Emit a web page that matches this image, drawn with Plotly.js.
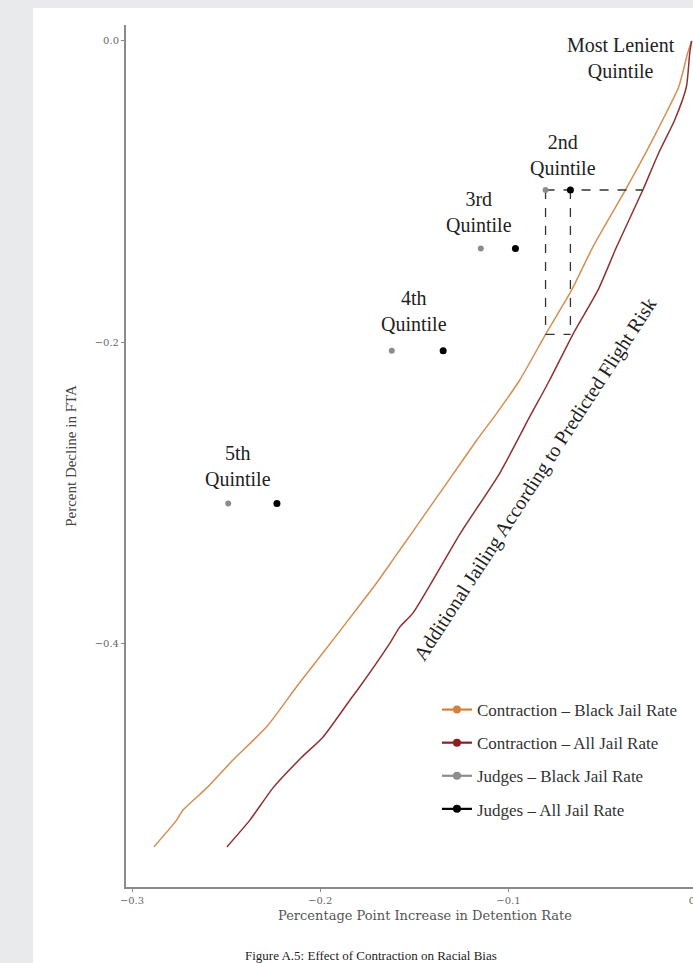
<!DOCTYPE html>
<html>
<head>
<meta charset="utf-8">
<script src="https://cdn.plot.ly/plotly-3.0.1.min.js"></script>
<style>
  html, body { margin: 0; padding: 0; overflow: hidden; background: #e9eaec; width: 693px; height: 963px; }
  #panel { position: absolute; left: 33px; top: 8px; width: 800px; height: 1000px; background: #ffffff; }
  #chart { position: absolute; left: 0; top: 0; width: 740px; height: 963px; }
</style>
</head>
<body>
<div id="panel"></div>
<div id="chart"></div>
<script>
// ---- Data ----
// Contraction curve, Black jail rate (x: pp increase in detention, y: percent decline in FTA)
const contractionBlackX = [-0.0027, -0.0048, -0.0096, -0.0181, -0.0271, -0.0380, -0.0552, -0.0664, -0.0802, -0.0940, -0.1062, -0.1168, -0.1328, -0.1514, -0.1604, -0.1701, -0.1843, -0.2002, -0.2126, -0.2285, -0.2464, -0.2597, -0.2730, -0.2763, -0.2884];
const contractionBlackY = [0.0000, -0.0080, -0.0306, -0.0525, -0.0744, -0.0993, -0.1369, -0.1654, -0.1947, -0.2252, -0.2472, -0.2651, -0.2937, -0.3269, -0.3429, -0.3601, -0.3834, -0.4091, -0.4290, -0.4556, -0.4777, -0.4955, -0.5110, -0.5176, -0.5354];

// Contraction curve, All jail rate
const contractionAllX = [-0.0027, -0.0037, -0.0055, -0.0117, -0.0202, -0.0288, -0.0426, -0.0524, -0.0657, -0.0781, -0.0887, -0.1046, -0.1255, -0.1508, -0.1577, -0.1630, -0.1790, -0.1843, -0.1985, -0.2100, -0.2250, -0.2374, -0.2496];
const contractionAllY = [0.0000, -0.0080, -0.0306, -0.0525, -0.0744, -0.0995, -0.1369, -0.1654, -0.1947, -0.2252, -0.2496, -0.2870, -0.3269, -0.3801, -0.3892, -0.4000, -0.4290, -0.4379, -0.4623, -0.4760, -0.4960, -0.5176, -0.5354];

// Judges by leniency quintile (2nd, 3rd, 4th, 5th)
const quintileLabels = ["2nd", "3rd", "4th", "5th"];
const judgesBlackX = [-0.0803, -0.1147, -0.1620, -0.2489];
const judgesAllX   = [-0.0671, -0.0963, -0.1347, -0.2230];
const judgesY      = [-0.0990, -0.1379, -0.2058, -0.3072];

// Tick values
const xTicks = [-0.3, -0.2, -0.1, 0.0];
const yTicks = [0.0, -0.2, -0.4];

// ---- helpers ----
function interpYatX(xs, ys, x) {
  for (let i = 0; i < xs.length - 1; i++) {
    const a = xs[i], b = xs[i + 1];
    if ((x <= a && x >= b) || (x >= a && x <= b)) {
      const t = (x - a) / (b - a);
      return ys[i] + t * (ys[i + 1] - ys[i]);
    }
  }
  return ys[ys.length - 1];
}
function interpXatY(xs, ys, y) {
  for (let i = 0; i < ys.length - 1; i++) {
    const a = ys[i], b = ys[i + 1];
    if ((y <= a && y >= b) || (y >= a && y <= b)) {
      const t = (y - a) / (b - a);
      return xs[i] + t * (xs[i + 1] - xs[i]);
    }
  }
  return xs[xs.length - 1];
}

const ORANGE = '#D68E52';
const MAROON = '#8E3232';
const ORANGE_KEY = '#D4813D';
const MAROON_KEY = '#8B1E22';
const GRAY = '#8c8c8c';
const BLACK = '#000000';
const SERIF = 'Liberation Serif, Times New Roman, serif';
const WIDESERIF = 'DejaVu Serif, serif';

// dashed box for the 2nd quintile, derived from the data
const gx = judgesBlackX[0], ax = judgesAllX[0], qy = judgesY[0];
const boxBottom = interpYatX(contractionBlackX, contractionBlackY, gx);
const boxRight = interpXatY(contractionAllX, contractionAllY, qy);

const dash = { color: '#333', width: 1.3, dash: 'dash' };
const traces = [
  { x: contractionBlackX, y: contractionBlackY, mode: 'lines', line: { color: ORANGE, width: 1.5, shape: 'spline', smoothing: 0.6 }, showlegend: false, hoverinfo: 'skip' },
  { x: contractionAllX, y: contractionAllY, mode: 'lines', line: { color: MAROON, width: 1.5, shape: 'spline', smoothing: 0.6 }, showlegend: false, hoverinfo: 'skip' },
  // dashed guide lines
  { x: [gx, boxRight], y: [qy, qy], mode: 'lines', line: dash, showlegend: false, hoverinfo: 'skip' },
  { x: [gx, gx], y: [qy, boxBottom], mode: 'lines', line: dash, showlegend: false, hoverinfo: 'skip' },
  { x: [ax, ax], y: [qy, boxBottom], mode: 'lines', line: dash, showlegend: false, hoverinfo: 'skip' },
  { x: [gx, ax], y: [boxBottom, boxBottom], mode: 'lines', line: dash, showlegend: false, hoverinfo: 'skip' },
  // judges points
  { x: judgesBlackX, y: judgesY, mode: 'markers', marker: { color: GRAY, size: 6 }, showlegend: false, hoverinfo: 'skip' },
  { x: judgesAllX, y: judgesY, mode: 'markers', marker: { color: BLACK, size: 7 }, showlegend: false, hoverinfo: 'skip' },
  // legend entries
  { x: [null], y: [null], mode: 'lines+markers', name: 'Contraction \u2013 Black Jail Rate', legendgroup: 'a', line: { color: ORANGE_KEY, width: 2.2 }, marker: { color: ORANGE_KEY, size: 8 } },
  { x: [null], y: [null], mode: 'lines+markers', name: 'Contraction \u2013 All Jail Rate', legendgroup: 'b', line: { color: MAROON_KEY, width: 2.2 }, marker: { color: MAROON_KEY, size: 8 } },
  { x: [null], y: [null], mode: 'lines+markers', name: 'Judges \u2013 Black Jail Rate', legendgroup: 'c', line: { color: GRAY, width: 2.2 }, marker: { color: GRAY, size: 8 } },
  { x: [null], y: [null], mode: 'lines+markers', name: 'Judges \u2013 All Jail Rate', legendgroup: 'd', line: { color: BLACK, width: 2.2 }, marker: { color: BLACK, size: 8 } }
];

const labelFont = { family: SERIF, size: 20, color: '#222' };
const annotations = [
  { x: -0.0404, y: -0.011, text: 'Most Lenient<br>Quintile', showarrow: false, font: labelFont, xanchor: 'center', yanchor: 'middle' },
  { x: -0.0713, y: -0.0757, text: quintileLabels[0] + '<br>Quintile', showarrow: false, font: labelFont, xanchor: 'center', yanchor: 'middle' },
  { x: -0.1156, y: -0.1136, text: quintileLabels[1] + '<br>Quintile', showarrow: false, font: labelFont, xanchor: 'center', yanchor: 'middle' },
  { x: -0.1503, y: -0.1796, text: quintileLabels[2] + '<br>Quintile', showarrow: false, font: labelFont, xanchor: 'center', yanchor: 'middle' },
  { x: -0.2436, y: -0.2823, text: quintileLabels[3] + '<br>Quintile', showarrow: false, font: labelFont, xanchor: 'center', yanchor: 'middle' },
  { x: -0.086, y: -0.291, text: 'Additional Jailing According to Predicted Flight Risk', showarrow: false, textangle: -57, font: labelFont, xanchor: 'center', yanchor: 'middle' },
  { xref: 'paper', yref: 'paper', x: 0.41, y: -0.0789, text: 'Figure A.5: Effect of Contraction on Racial Bias', showarrow: false, font: { family: SERIF, size: 13, color: '#222' }, xanchor: 'center', yanchor: 'middle' }
];

const layout = {
  width: 740,
  height: 963,
  margin: { l: 126, r: 16, t: 25, b: 76 },
  paper_bgcolor: 'rgba(0,0,0,0)',
  plot_bgcolor: 'rgba(0,0,0,0)',
  showlegend: true,
  legend: {
    x: 0.52, y: 0.2262, xanchor: 'left', yanchor: 'top',
    bgcolor: 'rgba(0,0,0,0)',
    font: { family: SERIF, size: 17, color: '#333' },
    tracegroupgap: 8,
    itemwidth: 30
  },
  xaxis: {
    range: [-0.3032, 0.0145],
    tickvals: xTicks, tickformat: '.1f',
    showgrid: false, zeroline: false,
    showline: true, linecolor: '#8a8a8a', linewidth: 2,
    ticks: 'outside', ticklen: 3, tickcolor: '#8a8a8a', tickwidth: 1,
    tickfont: { family: WIDESERIF, size: 10, color: '#666' },
    title: { text: 'Percentage Point Increase in Detention Rate', font: { family: WIDESERIF, size: 13, color: '#555' }, standoff: 6 }
  },
  yaxis: {
    range: [-0.562, 0.0106],
    tickvals: yTicks, tickformat: '.1f',
    showgrid: false, zeroline: false,
    showline: true, linecolor: '#8a8a8a', linewidth: 2,
    ticks: 'outside', ticklen: 3, tickcolor: '#8a8a8a', tickwidth: 1,
    tickfont: { family: WIDESERIF, size: 10, color: '#666' },
    title: { text: 'Percent Decline in FTA', font: { family: SERIF, size: 15, color: '#444' }, standoff: 14 }
  },
  annotations: annotations
};

Plotly.newPlot('chart', traces, layout, { displayModeBar: false, staticPlot: true });
</script>
</body>
</html>
